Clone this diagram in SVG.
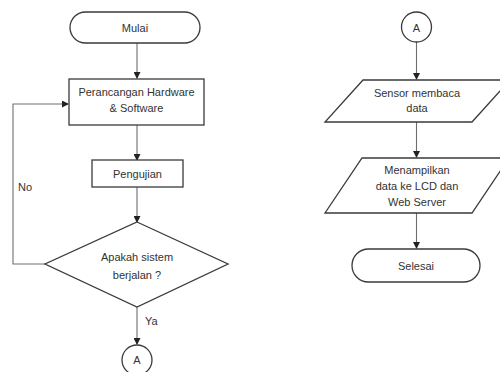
<svg xmlns="http://www.w3.org/2000/svg" width="500" height="372" viewBox="0 0 500 372">
<style>
.shape{fill:#fff;stroke:#3a3a3a;stroke-width:1.3}
.conn{fill:none;stroke:#6e6e6e;stroke-width:1.1}
text{font-family:"Liberation Sans","Open Sans",Arial,sans-serif;font-size:11px;fill:#333;text-anchor:middle;dominant-baseline:central}
.lbl{text-anchor:start}
</style>
<defs>
<marker id="ah" markerWidth="7" markerHeight="7" refX="6" refY="3.5" orient="auto" markerUnits="userSpaceOnUse">
<path d="M0,0 L7,3.5 L0,7 Z" fill="#222"/>
</marker>
</defs>
<rect width="500" height="372" fill="#fff"/>
<g id="connectors">
<path class="conn" d="M137,43 V78" marker-end="url(#ah)"/>
<path class="conn" d="M137,125 V160" marker-end="url(#ah)"/>
<path class="conn" d="M137,187 V222" marker-end="url(#ah)"/>
<path class="conn" d="M45,264 H13 V104 H68" marker-end="url(#ah)"/>
<path class="conn" d="M137,307 V344" marker-end="url(#ah)"/>
<path class="conn" d="M416.5,42 V79" marker-end="url(#ah)"/>
<path class="conn" d="M416.5,122 V157" marker-end="url(#ah)"/>
<path class="conn" d="M416.5,213 V248" marker-end="url(#ah)"/>
<text class="lbl" x="18" y="187">No</text>
<text class="lbl" x="145" y="321">Ya</text>
</g>
<g id="mulai">
<rect class="shape" x="70" y="12" width="130" height="31" rx="15.5"/>
<text x="135" y="27.5">Mulai</text>
</g>
<g id="perancangan">
<rect class="shape" x="69" y="79" width="135" height="46"/>
<text x="136.5" y="92">Perancangan Hardware</text>
<text x="136.5" y="108">&amp; Software</text>
</g>
<g id="pengujian">
<rect class="shape" x="92" y="160" width="91" height="27"/>
<text x="137.5" y="173.5">Pengujian</text>
</g>
<g id="keputusan">
<polygon class="shape" points="137,222 228,264 137,307 45,264"/>
<text x="137" y="257">Apakah sistem</text>
<text x="137" y="275">berjalan ?</text>
</g>
<g id="konektor-a1">
<circle class="shape" cx="137" cy="360" r="15"/>
<text x="137" y="360">A</text>
</g>
<g id="konektor-a2">
<circle class="shape" cx="416.5" cy="27" r="15"/>
<text x="416.5" y="27.5">A</text>
</g>
<g id="sensor">
<polygon class="shape" points="363,80 510,80 472,122 325,122"/>
<text x="417" y="93">Sensor membaca</text>
<text x="417" y="108">data</text>
</g>
<g id="menampilkan">
<polygon class="shape" points="362,158 509,158 472,213 325,213"/>
<text x="417" y="170">Menampilkan</text>
<text x="417" y="186">data ke LCD dan</text>
<text x="417" y="202">Web Server</text>
</g>
<g id="selesai">
<rect class="shape" x="352" y="249" width="128" height="33" rx="16.5"/>
<text x="416" y="265.5">Selesai</text>
</g>
</svg>
